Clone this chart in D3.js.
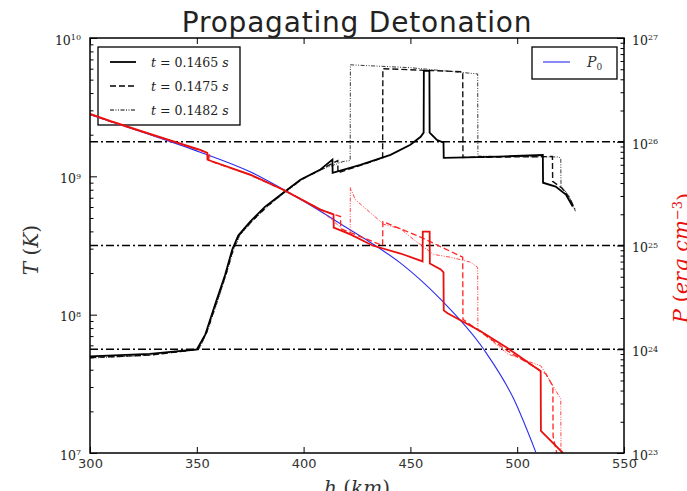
<!DOCTYPE html>
<html>
<head>
<meta charset="utf-8">
<script src="https://cdn.jsdelivr.net/npm/d3@7"></script>
<style>
body { margin: 0; background: #fff; }
</style>
</head>
<body>
<svg class="chart"></svg>
<script>
// Axis ticks
var hTicks = [300, 350, 400, 450, 500, 550];
var tDecades = [1e7, 1e8, 1e9, 1e10];
var pDecades = [1e23, 1e24, 1e25, 1e26, 1e27];
var gridP = [1e24, 1e25, 1e26];

// Temperature profiles [h (km), T (K)]
var tSolid = [  // t = 0.1465 s
  [300, 5.0e7], [328, 5.2e7], [350, 5.6e7], [354, 7.2e7], [358.6, 1.19e8],
  [363.3, 1.95e8], [366.6, 2.96e8], [369.4, 3.73e8], [375, 4.71e8],
  [382, 6.04e8], [390.5, 7.62e8], [398.5, 9.46e8], [407.9, 1.12e9],
  [413.5, 1.32e9], [413.6, 1.06e9], [426.6, 1.21e9], [440.7, 1.43e9],
  [450, 1.69e9], [454.8, 1.93e9], [456.2, 2.07e9], [456.3, 5.78e9],
  [458.9, 5.78e9], [459, 2.07e9], [462.3, 1.84e9], [465.5, 1.75e9],
  [465.6, 1.36e9], [492, 1.39e9], [512, 1.43e9], [512.1, 8.99e8],
  [518, 8.43e8], [522.8, 7.38e8], [526, 6.04e8]
];
var tDashed = [  // t = 0.1475 s
  [300, 4.9e7], [328, 5.1e7], [350.6, 5.6e7], [354.5, 7.4e7], [359, 1.2e8],
  [363.6, 1.95e8], [367, 3.0e8], [370, 3.8e8], [376, 4.8e8], [383, 6.1e8],
  [391, 7.7e8], [399, 9.5e8], [408, 1.12e9], [416, 1.3e9], [416.1, 1.06e9],
  [426.6, 1.2e9], [437, 1.36e9], [437.1, 6.0e9], [474.5, 5.7e9],
  [474.6, 1.37e9], [495, 1.38e9], [516.5, 1.39e9], [516.6, 9.2e8],
  [521, 8.2e8], [524.5, 7.0e8], [527, 5.8e8]
];
var tDashDot = [  // t = 0.1482 s
  [300, 4.85e7], [328, 5.1e7], [351, 5.6e7], [355, 7.6e7], [359.5, 1.22e8],
  [364, 2.0e8], [367.4, 3.0e8], [370.5, 3.8e8], [376.5, 4.8e8],
  [383.5, 6.1e8], [391.5, 7.7e8], [399.5, 9.5e8], [408.5, 1.12e9],
  [418.5, 1.28e9], [421.8, 1.3e9], [421.9, 6.4e9], [450, 6.1e9],
  [481.5, 5.5e9], [481.6, 1.40e9], [500, 1.39e9], [519.5, 1.38e9],
  [520.4, 1.35e9], [520.5, 8.5e8], [524, 7.3e8], [527.5, 5.5e8]
];

// Pressure profiles [h (km), P (erg cm^-3)]
var pSolid = [  // t = 0.1465 s
  [300, 1.86e26], [309.4, 1.59e26], [328.1, 1.19e26], [351.6, 8.37e25],
  [354.9, 7.83e25], [355.0, 6.71e25], [375, 4.82e25], [390.5, 3.45e25],
  [407.9, 2.22e25], [414.0, 1.99e25], [414.1, 1.49e25], [421.9, 1.28e25],
  [432.3, 1.0e25], [445.4, 8.37e24], [455.7, 7.02e24], [455.8, 1.36e25],
  [459.0, 1.36e25], [459.1, 6.71e24], [464.2, 5.87e24], [465.5, 5.5e24],
  [465.6, 2.37e24], [467.4, 2.22e24], [482.9, 1.49e24], [495.6, 1.02e24],
  [511.0, 6.14e23], [511.1, 1.63e23], [521.4, 1.0e23]
];
var pDashed = [  // t = 0.1475 s
  [300, 1.84e26], [309.4, 1.57e26], [328.1, 1.18e26], [351.6, 8.3e25],
  [355.5, 7.7e25], [355.6, 6.6e25], [375, 4.8e25], [390.5, 3.45e25],
  [407.9, 2.22e25], [417.3, 1.9e25], [417.4, 1.45e25], [437.0, 1.0e25],
  [437.1, 1.7e25], [455, 1.2e25], [474.5, 7.7e24], [474.6, 1.94e24],
  [495.6, 9.6e23], [513.4, 5.8e23], [516.7, 4.4e23], [516.8, 1.45e23],
  [518.5, 1.0e23]
];
var pDashDot = [  // t = 0.1482 s
  [300, 1.83e26], [309.4, 1.56e26], [328.1, 1.17e26], [351.6, 8.2e25],
  [356, 7.6e25], [356.1, 6.5e25], [375, 4.75e25], [390.5, 3.4e25],
  [407.9, 2.2e25], [418, 1.45e25], [421.8, 1.28e25], [421.9, 3.61e25],
  [424.2, 2.77e25], [437.5, 1.6e25], [445.4, 1.45e25], [451.5, 1.14e25],
  [460.9, 8.2e24], [468.9, 7.7e24], [478.2, 6.9e24], [481.5, 6.14e24],
  [481.6, 1.56e24], [495.6, 9.0e23], [511.1, 6.9e23], [515.8, 4.8e23],
  [520.4, 3.3e23], [520.5, 1.0e23]
];
var p0 = [  // initial profile
  [300, 1.82e26], [328.1, 1.17e26], [351.6, 7.94e25], [375, 5.13e25],
  [390.5, 3.47e25], [407.9, 2.14e25], [421.9, 1.41e25], [430.4, 1.1e25],
  [445.4, 6.76e24], [464.2, 3.02e24], [484.3, 1.0e24], [498.4, 3.31e23],
  [508.7, 1.02e23]
];

var legendT = ['0.1465', '0.1475', '0.1482'];

var width = 687, height = 491;
var mLeft = 90, mRight = 624, mTop = 38, mBottom = 453;

var serif = '"DejaVu Serif", serif';
var sans = '"DejaVu Sans", sans-serif';

var x = d3.scaleLinear().domain([300, 550]).range([mLeft, mRight]);
var yT = d3.scaleLog().domain([1e7, 1e10]).range([mBottom, mTop]);
var yP = d3.scaleLog().domain([1e23, 1e27]).range([mBottom, mTop]);

var svg = d3.select('.chart').attr('width', width).attr('height', height)
    .style('font-family', sans);

svg.append('defs').append('clipPath').attr('id', 'plot')
  .append('rect').attr('x', mLeft).attr('y', mTop)
  .attr('width', mRight - mLeft).attr('height', mBottom - mTop);

function minorTicks(decades) {
  var out = [];
  for (var i = 0; i < decades.length - 1; i++) {
    for (var m = 2; m < 10; m++) out.push(decades[i] * m);
  }
  return out;
}

function powLabel(sel, exp) {
  sel.text(null);
  sel.append('tspan').text('10');
  sel.append('tspan').attr('dy', '-0.55em').attr('font-size', '8px').text(exp);
}

function styleAxis(g) {
  g.select('.domain').remove();
  g.selectAll('line').attr('stroke', '#000').attr('stroke-width', 1);
}

// ---- axis 1 (T) ----
var lineT = d3.line().x(d => x(d[0])).y(d => yT(d[1]));
var lineP = d3.line().x(d => x(d[0])).y(d => yP(d[1]));

var plot = svg.append('g').attr('clip-path', 'url(#plot)');

plot.append('path').datum(tDashDot).attr('d', lineT).attr('fill', 'none')
  .attr('stroke', '#222').attr('stroke-width', 0.9)
  .attr('stroke-dasharray', '4,1.5,1,1.5,1,1.5');
plot.append('path').datum(tDashed).attr('d', lineT).attr('fill', 'none')
  .attr('stroke', '#111').attr('stroke-width', 1.4)
  .attr('stroke-dasharray', '6,3');
plot.append('path').datum(tSolid).attr('d', lineT).attr('fill', 'none')
  .attr('stroke', '#000').attr('stroke-width', 1.8);

// left axis
var gL = svg.append('g').attr('transform', 'translate(' + mLeft + ',0)');
gL.append('g').call(d3.axisLeft(yT).tickValues(minorTicks(tDecades))
    .tickSize(-3.5).tickFormat(''))
  .call(styleAxis);
gL.append('g').call(d3.axisLeft(yT).tickValues(tDecades).tickSize(-7)
    .tickPadding(9).tickFormat(''))
  .call(styleAxis)
  .selectAll('.tick text')
  .attr('font-family', serif).attr('font-size', '12.5px').attr('fill', '#222')
  .attr('dy', '0.5em')
  .each(function(d) { powLabel(d3.select(this), Math.round(Math.log10(d))); });

// bottom and top axes
svg.append('g').attr('transform', 'translate(0,' + mBottom + ')')
  .call(d3.axisBottom(x).tickValues(hTicks).tickSize(-6).tickPadding(6))
  .call(styleAxis)
  .selectAll('.tick text')
  .attr('font-family', sans).attr('font-size', '13px').attr('fill', '#333');
svg.append('g').attr('transform', 'translate(0,' + mTop + ')')
  .call(d3.axisTop(x).tickValues(hTicks).tickSize(-6).tickFormat(''))
  .call(styleAxis);

// legend 1
var leg = svg.append('g');
leg.append('rect').attr('x', 98).attr('y', 47).attr('width', 142)
  .attr('height', 78).attr('fill', '#fff').attr('stroke', '#000')
  .attr('stroke-width', 1.3);
var legStyles = [
  {dash: null, w: 1.8},
  {dash: '6,3', w: 1.4},
  {dash: '4,1.5,1,1.5,1,1.5', w: 1.1}
];
legendT.forEach(function(t, i) {
  var yy = 62 + i * 24;
  leg.append('line').attr('x1', 110).attr('x2', 136).attr('y1', yy)
    .attr('y2', yy).attr('stroke', '#000')
    .attr('stroke-width', legStyles[i].w)
    .attr('stroke-dasharray', legStyles[i].dash);
  var tx = leg.append('text').attr('x', 151).attr('y', yy + 4.5)
    .attr('font-family', serif).attr('font-size', '12.5px').attr('fill', '#222');
  tx.append('tspan').attr('font-style', 'italic').text('t');
  tx.append('tspan').text(' = ' + t + ' ');
  tx.append('tspan').attr('font-style', 'italic').text('s');
});

// ---- axis 2 (P) ----
var plot2 = svg.append('g').attr('clip-path', 'url(#plot)');
plot2.selectAll('line.grid').data(gridP).join('line')
  .attr('class', 'grid')
  .attr('x1', mLeft).attr('x2', mRight)
  .attr('y1', d => yP(d)).attr('y2', d => yP(d))
  .attr('stroke', '#000').attr('stroke-width', 1.3)
  .attr('stroke-dasharray', '8,3,2,3');

plot2.append('path').datum(p0).attr('d', lineP.curve(d3.curveMonotoneX))
  .attr('fill', 'none').attr('stroke', '#2b2bf0').attr('stroke-width', 1.1);
lineP.curve(d3.curveLinear);
plot2.append('path').datum(pDashDot).attr('d', lineP).attr('fill', 'none')
  .attr('stroke', '#f33').attr('stroke-width', 0.9)
  .attr('stroke-dasharray', '4,1.5,1,1.5,1,1.5');
plot2.append('path').datum(pDashed).attr('d', lineP).attr('fill', 'none')
  .attr('stroke', '#f22').attr('stroke-width', 1.3)
  .attr('stroke-dasharray', '6,3');
plot2.append('path').datum(pSolid).attr('d', lineP).attr('fill', 'none')
  .attr('stroke', '#e8110f').attr('stroke-width', 1.8);

// right axis
var gR = svg.append('g').attr('transform', 'translate(' + mRight + ',0)');
gR.append('g').call(d3.axisRight(yP).tickValues(minorTicks(pDecades))
    .tickSize(-3.5).tickFormat(''))
  .call(styleAxis);
gR.append('g').call(d3.axisRight(yP).tickValues(pDecades).tickSize(-7)
    .tickPadding(8).tickFormat(''))
  .call(styleAxis)
  .selectAll('.tick text')
  .attr('font-family', serif).attr('font-size', '12.5px').attr('fill', '#222')
  .attr('dy', '0.5em')
  .each(function(d) { powLabel(d3.select(this), Math.round(Math.log10(d))); });

// frame
svg.append('rect').attr('x', mLeft).attr('y', mTop)
  .attr('width', mRight - mLeft).attr('height', mBottom - mTop)
  .attr('fill', 'none').attr('stroke', '#000').attr('stroke-width', 1.5);

// legend 2
var leg2 = svg.append('g');
leg2.append('rect').attr('x', 532).attr('y', 47).attr('width', 85)
  .attr('height', 32).attr('fill', '#fff').attr('stroke', '#000')
  .attr('stroke-width', 1.3);
leg2.append('line').attr('x1', 543).attr('x2', 570).attr('y1', 62)
  .attr('y2', 62).attr('stroke', '#2b2bf0').attr('stroke-width', 1.1);
var p0t = leg2.append('text').attr('x', 587).attr('y', 67)
  .attr('font-family', serif).attr('font-size', '14px').attr('fill', '#333')
  .attr('font-style', 'italic');
p0t.append('tspan').text('P');
p0t.append('tspan').attr('dy', '0.3em').attr('font-size', '9px')
  .attr('font-style', 'normal').text('0');

// titles and labels
svg.append('text').attr('x', 357).attr('y', 32).attr('text-anchor', 'middle')
  .attr('font-family', sans).attr('font-size', '28px').attr('fill', '#222')
  .attr('letter-spacing', '0.8px')
  .text('Propagating Detonation');

var yl = svg.append('text')
  .attr('transform', 'translate(38,250) rotate(-90)')
  .attr('text-anchor', 'middle').attr('font-family', serif)
  .attr('font-size', '20px').attr('fill', '#333');
yl.append('tspan').attr('font-style', 'italic').text('T');
yl.append('tspan').text('  (');
yl.append('tspan').attr('font-style', 'italic').text('K');
yl.append('tspan').text(')');

var xl = svg.append('text').attr('x', 357).attr('y', 495)
  .attr('text-anchor', 'middle').attr('font-family', serif)
  .attr('font-size', '20px').attr('fill', '#333');
xl.append('tspan').attr('font-style', 'italic').text('h');
xl.append('tspan').text('  (');
xl.append('tspan').attr('font-style', 'italic').text('km');
xl.append('tspan').text(')');

var pl = svg.append('text')
  .attr('transform', 'translate(688,258) rotate(-90)')
  .attr('text-anchor', 'middle').attr('font-family', serif)
  .attr('font-size', '21px').attr('fill', '#e8110f');
pl.append('tspan').attr('font-style', 'italic').text('P');
pl.append('tspan').text('  (');
pl.append('tspan').attr('font-style', 'italic').text('erg cm');
pl.append('tspan').attr('dy', '-0.5em').attr('font-size', '13px').text('\u22123');
pl.append('tspan').attr('dy', '0.5em').text(')');
</script>
</body>
</html>
